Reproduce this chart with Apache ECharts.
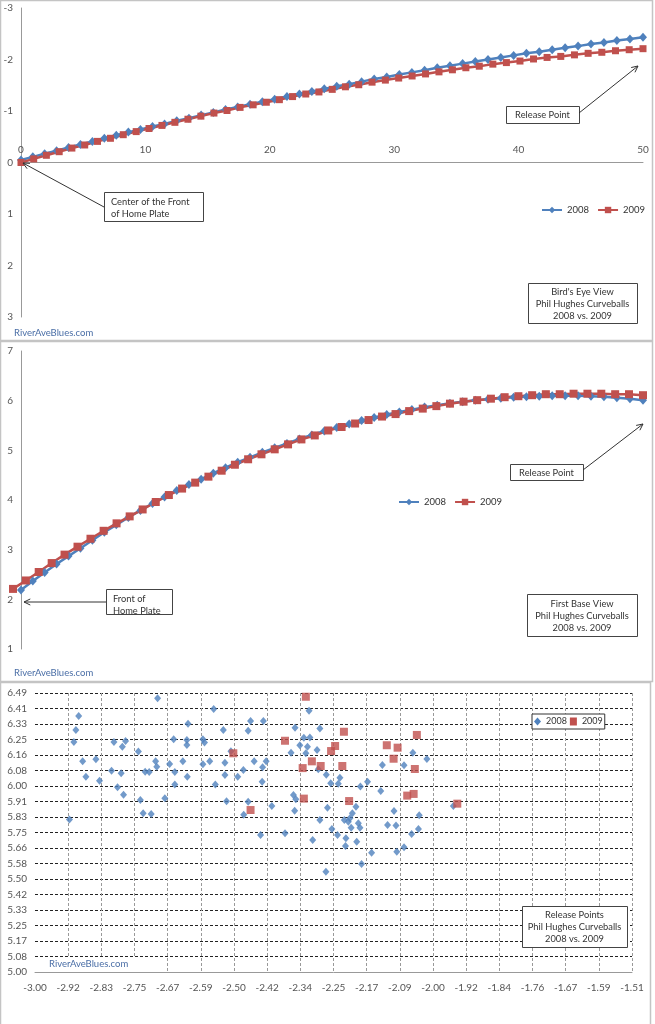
<!DOCTYPE html>
<html><head><meta charset="utf-8">
<script src="https://cdn.jsdelivr.net/npm/echarts@6/dist/echarts.min.js"></script>
<style>html,body{margin:0;padding:0;background:#fff}#c{width:655px;height:1024px}</style>
</head><body><div id="c"></div>
<script>
// ---- Data: trajectory (distance from front of home plate, ft) ----
const distance2008 = [0,0.95,1.9,2.86,3.82,4.78,5.74,6.7,7.66,8.63,9.6,10.57,11.54,12.52,13.5,14.48,15.46,16.44,17.42,18.41,19.4,20.39,21.38,22.38,23.38,24.38,25.38,26.38,27.38,28.39,29.4,30.41,31.42,32.44,33.46,34.48,35.5,36.52,37.54,38.57,39.6,40.63,41.66,42.7,43.74,44.78,45.82,46.86,47.9,48.95,50];
const distance2009 = [0,1.02,2.04,3.07,4.09,5.12,6.15,7.19,8.22,9.26,10.29,11.33,12.37,13.42,14.46,15.51,16.56,17.61,18.66,19.72,20.77,21.83,22.89,23.95,25.02,26.08,27.15,28.22,29.29,30.36,31.44,32.52,33.6,34.68,35.76,36.84,37.93,39.02,40.11,41.2,42.29,43.39,44.49,45.59,46.69,47.79,48.89,50];
// Bird's eye view: horizontal offset (ft)
const birdsEye2008 = [-0.05,-0.11,-0.17,-0.23,-0.29,-0.35,-0.41,-0.47,-0.53,-0.59,-0.64,-0.70,-0.75,-0.81,-0.86,-0.92,-0.97,-1.03,-1.08,-1.13,-1.18,-1.23,-1.28,-1.33,-1.38,-1.43,-1.48,-1.52,-1.57,-1.62,-1.66,-1.71,-1.75,-1.79,-1.84,-1.88,-1.92,-1.96,-2.00,-2.04,-2.08,-2.12,-2.15,-2.19,-2.23,-2.26,-2.30,-2.33,-2.37,-2.40,-2.43];
const birdsEye2009 = [0,-0.07,-0.14,-0.21,-0.28,-0.34,-0.41,-0.47,-0.54,-0.60,-0.66,-0.72,-0.78,-0.84,-0.90,-0.96,-1.01,-1.07,-1.12,-1.17,-1.22,-1.28,-1.33,-1.37,-1.42,-1.47,-1.51,-1.56,-1.60,-1.64,-1.68,-1.72,-1.76,-1.80,-1.84,-1.87,-1.91,-1.94,-1.97,-2.01,-2.04,-2.06,-2.09,-2.12,-2.14,-2.17,-2.19,-2.21];
// First base view: height (ft)
const firstBase2008 = [2.19,2.37,2.54,2.71,2.87,3.03,3.19,3.35,3.50,3.65,3.79,3.93,4.06,4.19,4.31,4.42,4.54,4.65,4.76,4.86,4.96,5.05,5.14,5.23,5.31,5.39,5.46,5.53,5.60,5.66,5.72,5.77,5.82,5.87,5.91,5.95,5.98,6.01,6.03,6.05,6.07,6.08,6.09,6.10,6.10,6.10,6.09,6.08,6.06,6.04,6.01];
const firstBase2009 = [2.21,2.38,2.55,2.73,2.90,3.06,3.22,3.38,3.53,3.67,3.81,3.96,4.10,4.23,4.35,4.47,4.59,4.71,4.82,4.92,5.02,5.12,5.22,5.30,5.40,5.47,5.54,5.61,5.68,5.73,5.79,5.84,5.89,5.94,5.98,6.01,6.04,6.07,6.09,6.11,6.13,6.13,6.14,6.14,6.14,6.13,6.13,6.11];
// Release points [horizontal, height]
const release2008 = [[-2.914,5.815],[-2.903,6.228],[-2.898,6.292],[-2.891,6.367],[-2.881,6.125],[-2.873,6.043],[-2.848,6.136],[-2.839,6.022],[-2.809,6.075],[-2.803,6.228],[-2.785,6.061],[-2.794,5.986],[-2.782,6.203],[-2.779,5.947],[-2.774,6.234],[-2.742,6.177],[-2.737,5.919],[-2.730,5.848],[-2.725,6.070],[-2.715,6.068],[-2.710,5.844],[-2.699,6.125],[-2.696,6.096],[-2.694,6.462],[-2.676,5.928],[-2.664,6.111],[-2.654,6.243],[-2.651,6.068],[-2.651,6.002],[-2.631,6.125],[-2.621,6.239],[-2.621,6.212],[-2.620,6.043],[-2.618,6.326],[-2.581,6.109],[-2.581,6.243],[-2.577,6.225],[-2.564,6.125],[-2.554,6.405],[-2.550,6.002],[-2.530,6.292],[-2.526,6.118],[-2.526,6.052],[-2.522,5.912],[-2.511,6.179],[-2.494,6.043],[-2.480,6.079],[-2.479,5.840],[-2.468,6.289],[-2.468,5.909],[-2.462,6.340],[-2.453,6.125],[-2.437,5.732],[-2.433,6.016],[-2.432,6.093],[-2.430,6.340],[-2.423,6.125],[-2.409,5.887],[-2.376,5.741],[-2.361,6.171],[-2.355,5.945],[-2.351,6.305],[-2.349,5.922],[-2.352,5.861],[-2.339,6.211],[-2.329,6.251],[-2.324,6.168],[-2.320,6.203],[-2.316,6.395],[-2.314,6.253],[-2.307,5.705],[-2.296,6.186],[-2.293,6.083],[-2.289,6.301],[-2.289,5.812],[-2.273,6.054],[-2.270,5.877],[-2.274,5.536],[-2.262,6.008],[-2.243,6.006],[-2.239,6.038],[-2.228,5.812],[-2.218,5.803],[-2.214,5.821],[-2.208,5.848],[-2.199,5.883],[-2.211,5.771],[-2.259,5.764],[-2.245,5.732],[-2.224,5.714],[-2.225,5.673],[-2.197,5.696],[-2.193,5.794],[-2.189,5.771],[-2.188,5.990],[-2.170,6.016],[-2.160,5.637],[-2.137,5.967],[-2.133,6.105],[-2.120,5.785],[-2.104,5.860],[-2.099,5.783],[-2.097,5.642],[-2.079,6.104],[-2.079,5.666],[-2.060,5.737],[-2.057,6.171],[-2.043,5.764],[-2.041,5.837],[-2.022,6.138],[-1.956,5.887],[-2.185,5.577]];
const release2009 = [[-2.505,6.168],[-2.462,5.865],[-2.376,6.235],[-2.324,6.470],[-2.332,6.089],[-2.309,6.125],[-2.287,6.100],[-2.329,5.926],[-2.261,6.180],[-2.251,6.207],[-2.229,6.283],[-2.233,6.100],[-2.216,5.913],[-2.122,6.211],[-2.095,6.198],[-2.105,6.139],[-2.047,6.266],[-2.052,6.084],[-2.071,5.942],[-2.055,5.951],[-1.946,5.899]];
// Tick labels
const birdsEyeXTicks = ['0','10','20','30','40','50'];
const releaseXTicks = ['-3.00','-2.92','-2.83','-2.75','-2.67','-2.59','-2.50','-2.42','-2.34','-2.25','-2.17','-2.09','-2.00','-1.92','-1.84','-1.76','-1.67','-1.59','-1.51'];
const releaseYTicks = ['5.00','5.08','5.17','5.25','5.33','5.42','5.50','5.58','5.66','5.75','5.83','5.91','6.00','6.08','6.16','6.25','6.33','6.41','6.49'];

const BLUE = '#4F81BD', RED = '#C0504D';
const FONT = 'Lato, "Noto Sans", sans-serif';
const ANN = '9.3px ' + FONT;
const zip = (a, b) => a.map((v, i) => [v, b[i]]);
const xMin = -3, xMax = -1.51, yMin = 5, yMax = 6.49;
const xStep = (xMax - xMin) / (releaseXTicks.length - 1);
const yStep = (yMax - yMin) / (releaseYTicks.length - 1);

function arrow(x1, y1, x2, y2) {
  const a = Math.atan2(y2 - y1, x2 - x1), L = 7, s = 0.45;
  return [
    {type: 'line', z: 100, shape: {x1, y1, x2, y2}, style: {stroke: '#333', lineWidth: 1}},
    {type: 'polyline', z: 100, shape: {points: [[x2 - L * Math.cos(a - s), y2 - L * Math.sin(a - s)], [x2, y2], [x2 - L * Math.cos(a + s), y2 - L * Math.sin(a + s)]]}, style: {stroke: '#333', fill: null, lineWidth: 1}}
  ];
}
function box(x, y, w, h) {
  return {type: 'rect', z: 100, shape: {x: x + 0.5, y: y + 0.5, width: w, height: h}, style: {fill: '#fff', stroke: '#444', lineWidth: 1}};
}
function txt(t, x, y, align) {
  return {type: 'text', z: 101, style: {text: t, x, y, fill: '#333', font: ANN, align: align || 'center', verticalAlign: 'middle'}};
}
function mark(x, y) {
  return {type: 'text', z: 101, style: {text: 'RiverAveBlues.com', x, y, fill: '#4a6ea6', font: '9.5px ' + FONT, align: 'left', verticalAlign: 'middle'}};
}
const panelBorder = (y, w, h) => ({type: 'rect', z: 100, shape: {x: 0.5, y: y + 0.5, width: w, height: h}, style: {fill: null, stroke: '#c4c4c4', lineWidth: 1.5}});

const graphics = [
  panelBorder(0, 652, 340), panelBorder(341, 652, 340), panelBorder(682, 650, 345),
  box(506, 106, 73, 17), txt('Release Point', 542.5, 115),
  ...arrow(579, 113, 638, 66),
  box(104, 192, 99, 29), txt('Center of the Front', 111, 202, 'left'), txt('of Home Plate', 111, 214, 'left'),
  ...arrow(104, 207, 23, 163),
  box(528, 283, 109, 40), txt("Bird's Eye View", 582.5, 292), txt('Phil Hughes Curveballs', 582.5, 304), txt('2008 vs. 2009', 582.5, 316),
  mark(14, 333),
  box(510, 464, 73, 16), txt('Release Point', 546.5, 472.5),
  ...arrow(583, 470, 643, 424),
  box(106, 589, 66, 25), txt('Front of', 113, 599, 'left'), txt('Home Plate', 113, 611, 'left'),
  ...arrow(106, 602, 24, 602),
  box(527, 594, 110, 42), txt('First Base View', 582, 604), txt('Phil Hughes Curveballs', 582, 616), txt('2008 vs. 2009', 582, 628),
  mark(14, 673),
  box(522, 906, 105, 41), txt('Release Points', 574.5, 915), txt('Phil Hughes Curveballs', 574.5, 927), txt('2008 vs. 2009', 574.5, 939),
  {type: 'rect', z: 100, shape: {x: 43, y: 957, width: 100, height: 14}, style: {fill: '#fff'}},
  mark(49, 964)
];

const lbl = {color: '#555', fontSize: 10, fontFamily: FONT};
const chart = echarts.init(document.getElementById('c'), null, {renderer: 'canvas'});
chart.setOption({
  animation: false,
  backgroundColor: '#fff',
  textStyle: {fontFamily: FONT},
  grid: [
    {left: 21, top: 8, width: 622, height: 309},
    {left: 21, top: 351, width: 622, height: 298},
    {left: 13, top: 351, width: 630, height: 298},
    {left: 35, top: 693, width: 597, height: 279}
  ],
  xAxis: [
    {gridIndex: 0, type: 'value', min: 0, max: 50, interval: 10, position: 'top', offset: -154.5,
     axisLine: {onZero: false, lineStyle: {color: '#999'}}, axisTick: {show: false},
     axisLabel: {...lbl, margin: 8, formatter: v => birdsEyeXTicks[Math.round(v / 10)]}, splitLine: {show: false}},
    {gridIndex: 1, type: 'value', min: 0, max: 50, show: false},
    {gridIndex: 2, type: 'value', min: 0, max: 50, show: false},
    {gridIndex: 3, type: 'value', min: xMin, max: xMax, interval: xStep,
     axisLine: {onZero: false, lineStyle: {color: '#999'}}, axisTick: {show: false},
     axisLabel: {...lbl, margin: 11, formatter: v => releaseXTicks[Math.round((v - xMin) / xStep)]},
     splitLine: {show: true, showMinLine: false, lineStyle: {color: '#999', type: [3, 2], width: 1}}}
  ],
  yAxis: [
    {gridIndex: 0, type: 'value', inverse: true, min: -3, max: 3, interval: 1,
     axisLine: {show: true, onZero: false, lineStyle: {color: '#999'}}, axisTick: {show: false},
     axisLabel: {...lbl, margin: 8}, splitLine: {show: false}},
    {gridIndex: 1, type: 'value', min: 1, max: 7, interval: 1,
     axisLine: {show: true, onZero: false, lineStyle: {color: '#999'}}, axisTick: {show: false},
     axisLabel: {...lbl, margin: 8}, splitLine: {show: false}},
    {gridIndex: 2, type: 'value', min: 1, max: 7, show: false},
    {gridIndex: 3, type: 'value', min: yMin, max: yMax, interval: yStep,
     axisLine: {show: false}, axisTick: {show: false},
     axisLabel: {...lbl, margin: 8, formatter: v => releaseYTicks[Math.round((v - yMin) / yStep)]},
     splitLine: {show: true, showMinLine: false, lineStyle: {color: '#222', type: [3, 2], width: 1}}}
  ],
  legend: [
    {left: 541, top: 205, itemWidth: 20, itemHeight: 8, itemGap: 8, padding: 0,
     textStyle: {color: '#333', fontSize: 9.5, fontFamily: FONT}, data: ['2008', '2009']},
    {left: 398, top: 497, itemWidth: 20, itemHeight: 8, itemGap: 8, padding: 0,
     textStyle: {color: '#333', fontSize: 9.5, fontFamily: FONT}, data: ['2008', '2009']},
    {left: 532, top: 714, itemWidth: 7, itemHeight: 8, itemGap: 3, padding: [3, 2, 3, 2],
     borderColor: '#333', borderWidth: 1, backgroundColor: '#fff',
     textStyle: {color: '#333', fontSize: 9, fontFamily: FONT},
     data: [{name: '2008', icon: 'diamond'}, {name: '2009', icon: 'rect'}]}
  ],
  series: [
    {name: '2008', type: 'line', xAxisIndex: 0, yAxisIndex: 0, data: zip(distance2008, birdsEye2008),
     symbol: 'diamond', symbolSize: [8, 9], showSymbol: true, color: BLUE, lineStyle: {width: 2.5, color: BLUE}},
    {name: '2009', type: 'line', xAxisIndex: 0, yAxisIndex: 0, data: zip(distance2009, birdsEye2009),
     symbol: 'rect', symbolSize: 7, showSymbol: true, color: RED, lineStyle: {width: 2.5, color: RED}},
    {name: '2008', type: 'line', xAxisIndex: 1, yAxisIndex: 1, data: zip(distance2008, firstBase2008),
     symbol: 'diamond', symbolSize: [8, 9], showSymbol: true, color: BLUE, lineStyle: {width: 2.5, color: BLUE}},
    {name: '2009', type: 'line', xAxisIndex: 2, yAxisIndex: 2, data: zip(distance2009, firstBase2009),
     symbol: 'rect', symbolSize: 8, showSymbol: true, color: RED, lineStyle: {width: 2.5, color: RED}},
    {name: '2008', type: 'scatter', xAxisIndex: 3, yAxisIndex: 3, data: release2008,
     symbol: 'diamond', symbolSize: [7, 8], color: BLUE},
    {name: '2009', type: 'scatter', xAxisIndex: 3, yAxisIndex: 3, data: release2009,
     symbol: 'rect', symbolSize: 8, color: RED}
  ],
  graphic: {elements: graphics}
});
</script>
</body></html>
